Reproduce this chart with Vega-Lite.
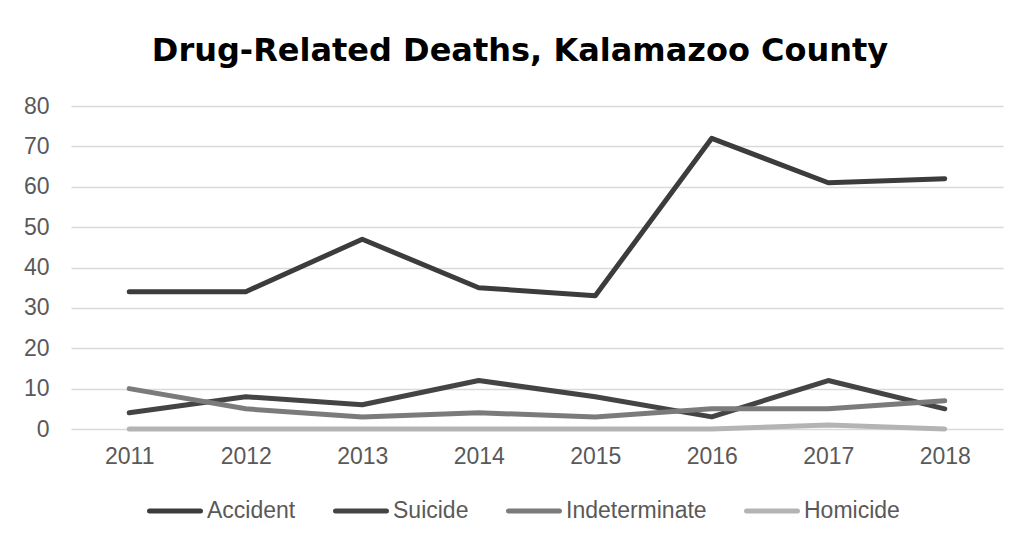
{
  "$schema": "https://vega.github.io/schema/vega-lite/v6.json",
  "autosize": "none",
  "width": 932,
  "height": 323,
  "padding": {"left": 71, "top": 106, "right": 16, "bottom": 115},
  "background": "white",
  "title": {
    "text": "Drug-Related Deaths, Kalamazoo County",
    "font": "DejaVu Sans",
    "fontWeight": "bold",
    "fontSize": 32,
    "color": "#000000",
    "anchor": "middle",
    "dx": -17,
    "offset": 27
  },
  "data": {
    "values": [
      {"year": "2011", "type": "Accident", "deaths": 34},
      {"year": "2012", "type": "Accident", "deaths": 34},
      {"year": "2013", "type": "Accident", "deaths": 47},
      {"year": "2014", "type": "Accident", "deaths": 35},
      {"year": "2015", "type": "Accident", "deaths": 33},
      {"year": "2016", "type": "Accident", "deaths": 72},
      {"year": "2017", "type": "Accident", "deaths": 61},
      {"year": "2018", "type": "Accident", "deaths": 62},
      {"year": "2011", "type": "Suicide", "deaths": 4},
      {"year": "2012", "type": "Suicide", "deaths": 8},
      {"year": "2013", "type": "Suicide", "deaths": 6},
      {"year": "2014", "type": "Suicide", "deaths": 12},
      {"year": "2015", "type": "Suicide", "deaths": 8},
      {"year": "2016", "type": "Suicide", "deaths": 3},
      {"year": "2017", "type": "Suicide", "deaths": 12},
      {"year": "2018", "type": "Suicide", "deaths": 5},
      {"year": "2011", "type": "Indeterminate", "deaths": 10},
      {"year": "2012", "type": "Indeterminate", "deaths": 5},
      {"year": "2013", "type": "Indeterminate", "deaths": 3},
      {"year": "2014", "type": "Indeterminate", "deaths": 4},
      {"year": "2015", "type": "Indeterminate", "deaths": 3},
      {"year": "2016", "type": "Indeterminate", "deaths": 5},
      {"year": "2017", "type": "Indeterminate", "deaths": 5},
      {"year": "2018", "type": "Indeterminate", "deaths": 7},
      {"year": "2011", "type": "Homicide", "deaths": 0},
      {"year": "2012", "type": "Homicide", "deaths": 0},
      {"year": "2013", "type": "Homicide", "deaths": 0},
      {"year": "2014", "type": "Homicide", "deaths": 0},
      {"year": "2015", "type": "Homicide", "deaths": 0},
      {"year": "2016", "type": "Homicide", "deaths": 0},
      {"year": "2017", "type": "Homicide", "deaths": 1},
      {"year": "2018", "type": "Homicide", "deaths": 0}
    ]
  },
  "mark": {"type": "line", "strokeWidth": 5, "strokeCap": "round", "strokeJoin": "round"},
  "encoding": {
    "x": {
      "field": "year",
      "type": "ordinal",
      "scale": {"type": "point", "padding": 0.5},
      "axis": {
        "title": null,
        "labelAngle": 0,
        "domain": false,
        "ticks": false,
        "labelPadding": 16,
        "labelFont": "Liberation Sans",
        "labelFontSize": 23,
        "labelColor": "#595959"
      }
    },
    "y": {
      "field": "deaths",
      "type": "quantitative",
      "scale": {"domain": [0, 80], "nice": false},
      "axis": {
        "title": null,
        "values": [0, 10, 20, 30, 40, 50, 60, 70, 80],
        "domain": false,
        "ticks": false,
        "grid": true,
        "gridColor": "#d9d9d9",
        "gridWidth": 1.5,
        "labelPadding": 22,
        "labelFont": "Liberation Sans",
        "labelFontSize": 23,
        "labelColor": "#595959"
      }
    },
    "color": {
      "field": "type",
      "type": "nominal",
      "sort": ["Accident", "Suicide", "Indeterminate", "Homicide"],
      "scale": {
        "domain": ["Accident", "Suicide", "Indeterminate", "Homicide"],
        "range": ["#3c3c3c", "#444444", "#7b7b7b", "#b4b4b4"]
      },
      "legend": {
        "title": null,
        "orient": "none",
        "legendX": 76,
        "legendY": 377,
        "direction": "horizontal",
        "symbolType": "stroke",
        "symbolSize": 2600,
        "symbolStrokeWidth": 5,
        "labelOffset": 4,
        "columnPadding": 29,
        "labelFont": "Liberation Sans",
        "labelFontSize": 23,
        "labelColor": "#595959",
        "encode": {"symbols": {"update": {"strokeCap": {"value": "round"}}}}
      }
    }
  },
  "config": {"view": {"stroke": null}}
}
